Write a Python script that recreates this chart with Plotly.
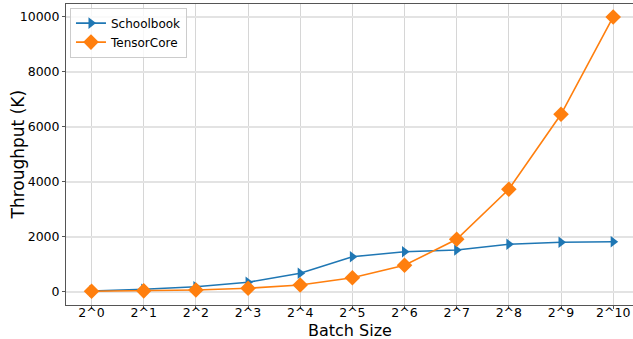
import plotly.graph_objects as go

batch_labels = ["2^0", "2^1", "2^2", "2^3", "2^4", "2^5", "2^6", "2^7", "2^8", "2^9", "2^10"]
schoolbook = [25, 87, 182, 342, 669, 1273, 1455, 1516, 1723, 1796, 1818]
tensorcore = [15, 30, 62, 124, 244, 509, 960, 1905, 3723, 6450, 9990]
y_ticks = [0, 2000, 4000, 6000, 8000, 10000]

x = list(range(len(batch_labels)))

fig = go.Figure()
fig.add_trace(go.Scatter(
    x=x, y=schoolbook, mode="lines+markers", name="Schoolbook",
    line=dict(color="#1f77b4", width=1.6),
    marker=dict(symbol="triangle-right", size=10, color="#1f77b4"),
))
fig.add_trace(go.Scatter(
    x=x, y=tensorcore, mode="lines+markers", name="TensorCore",
    line=dict(color="#ff7f0e", width=1.6),
    marker=dict(symbol="diamond", size=12, color="#ff7f0e"),
))

fig.update_layout(
    width=633, height=339,
    margin=dict(l=66, r=0, t=4, b=34, autoexpand=False),
    paper_bgcolor="white", plot_bgcolor="white",
    font=dict(family="DejaVu Sans", size=12, color="black"),
    showlegend=True,
    legend=dict(x=0.007, y=0.988, xanchor="left", yanchor="top",
                bgcolor="rgba(255,255,255,0.8)", bordercolor="#cccccc", borderwidth=1,
                font=dict(size=12), tracegroupgap=0, itemwidth=30),
    annotations=[
        dict(text="Batch Size", xref="paper", yref="paper", x=0.5, y=0,
             xanchor="center", yanchor="middle", yshift=-25.5, showarrow=False,
             font=dict(size=16)),
        dict(text="Throughput (K)", xref="paper", yref="paper", x=0, y=0.5,
             xanchor="center", yanchor="middle", xshift=-49, textangle=-90,
             showarrow=False, font=dict(size=17)),
    ],
)
fig.update_xaxes(
    automargin=False,
    range=[-0.49, 10.38], tickmode="array", tickvals=x, ticktext=batch_labels,
    showgrid=True, gridcolor="#d6d6d6", gridwidth=1,
    showline=True, linecolor="#555555", linewidth=1, mirror=True,
    ticks="outside", ticklen=3, tickcolor="#555555",
    ticklabelstandoff=-7,
    tickfont=dict(size=12.5),
    zeroline=False,
)
fig.update_yaxes(
    automargin=False,
    range=[-484, 10462], tickmode="array", tickvals=y_ticks,
    ticktext=[str(v) for v in y_ticks],
    showgrid=True, gridcolor="#e3e3e3", gridwidth=1.5,
    showline=True, linecolor="#555555", linewidth=1, mirror=True,
    ticks="outside", ticklen=3, tickcolor="#555555",
    tickfont=dict(size=12.5),
    zeroline=False,
)

fig.write_html("out.html", config={"displayModeBar": False},
               post_script="document.body.style.margin='0';")
